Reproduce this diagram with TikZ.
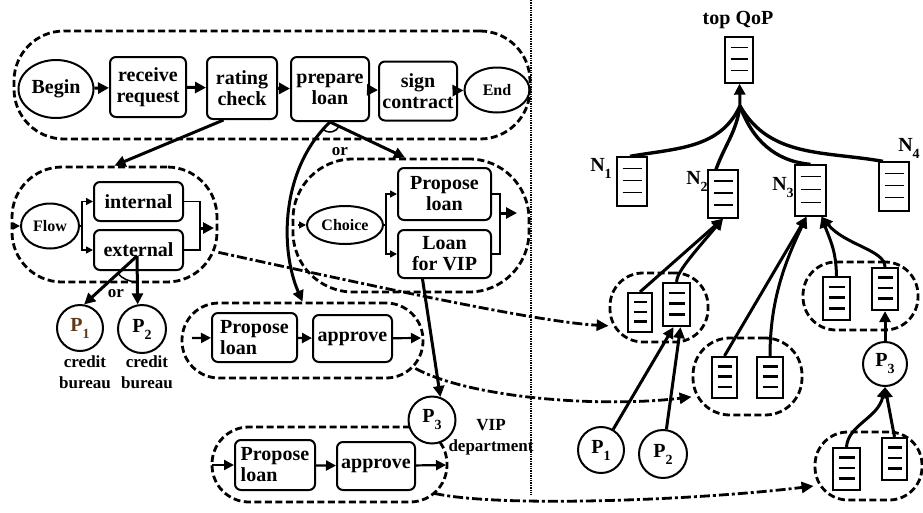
\documentclass[tikz,border=0pt]{standalone}
\usepackage{fontspec}
\setmainfont{Liberation Serif}
\usetikzlibrary{positioning, calc, arrows.meta, shapes.geometric}
\definecolor{bureaubrown}{RGB}{96,56,20}
\newcommand{\lbl}[2]{#1\raisebox{-0.35em}{\fontsize{14}{14}\selectfont #2}}

\tikzset{
  task/.style={draw, line width=2pt, rounded corners=6pt, align=center, inner sep=0pt, font=\fontsize{20}{21}\selectfont\bfseries},
  ev/.style={draw, ellipse, line width=2pt, inner sep=0pt, font=\fontsize{20}{21}\selectfont\bfseries},
  grp/.style={draw, line width=2.8pt, dash pattern=on 7pt off 3.5pt, inner sep=0pt},
  proc/.style={draw, circle, fill=white, line width=2pt, inner sep=0pt, font=\fontsize{20}{21}\selectfont\bfseries},
  txt/.style={font=\fontsize{17}{21}\selectfont\bfseries, align=center, inner sep=0pt},
  doc/.style={draw, fill=white, line width=1.3pt, inner sep=0pt,
    path picture={\foreach \f in {0.23,0.48,0.73}
      \draw[line width=#1] ($(path picture bounding box.north west)!\f!(path picture bounding box.south west)+(5.5,0)$)
        -- ($(path picture bounding box.north east)!\f!(path picture bounding box.south east)+(-5.5,0)$);}},
  doc/.default=1.4pt,
  gdoc/.style={doc=2.4pt, line width=2.2pt},
  flowarr/.style={line width=3pt, -{Triangle[length=11pt,width=11pt]}},
  midarr/.style={line width=2.2pt, -{Triangle[length=10pt,width=10pt]}},
  tinyarr/.style={line width=1.5pt, -{Triangle[length=7pt,width=7pt]}},
  linkarr/.style={line width=2.8pt, dash pattern=on 10pt off 3pt on 3pt off 3pt, -{Triangle[length=12pt,width=11pt]}},
}

\begin{document}
\begin{tikzpicture}[x=1pt, y=-1pt]
    \useasboundingbox (0,0) rectangle (923,512);

    % dashed scopes, drawn first
    \node[grp, rounded corners=50pt, minimum width=516pt, minimum height=108pt] (g0) at (272,85) {};
    \node[grp, rounded corners=50pt, minimum width=205pt, minimum height=115pt] (g1) at (114.5,224.5) {};
    \node[grp, rounded corners=60pt, minimum width=236pt, minimum height=133pt] (g2) at (411,225.5) {};
    \node[grp, rounded corners=37pt, minimum width=241pt, minimum height=75pt] (g3) at (302.5,340.5) {};
    \node[grp, rounded corners=37pt, minimum width=235pt, minimum height=75pt] (g4) at (329.5,464.5) {};
    \node[grp, rounded corners=33pt, minimum width=98pt, minimum height=69pt] (ga) at (659,307.5) {};
    \node[grp, rounded corners=37pt, minimum width=109pt, minimum height=77pt] (gb) at (747.5,376.5) {};
    \node[grp, rounded corners=33pt, minimum width=115pt, minimum height=68pt] (gc) at (860.5,296) {};
    \node[grp, rounded corners=33pt, minimum width=107pt, minimum height=68pt] (gd) at (868.5,466) {};

    \draw[densely dotted, line width=1.4pt] (531,0) -- (531,495);

    % main process
    \node[ev, minimum width=75pt, minimum height=58pt] (begin) at (56,89) {Begin};
    \node[task, minimum width=76pt, minimum height=60pt] (receive) at (148,87) {receive\\request};
    \node[task, minimum width=70pt, minimum height=62pt] (rating) at (242,88) {rating\\check};
    \node[task, minimum width=78pt, minimum height=64pt] (prepare) at (330,89) {prepare\\loan};
    \node[task, minimum width=78pt, minimum height=59pt] (sign) at (418,91) {sign\\contract};
    \node[ev, minimum width=65pt, minimum height=45pt, font=\fontsize{16}{16}\selectfont\bfseries] (end) at (497,90) {End};
    \foreach \a/\b in {begin/receive, receive/rating, rating/prepare, prepare/sign, sign/end}
        \draw[flowarr] (\a) -- (\b);

    % flow scope
    \node[ev, minimum width=58pt, minimum height=45pt, font=\fontsize{16}{16}\selectfont\bfseries] (flow) at (50,226) {Flow};
    \node[task, minimum width=89pt, minimum height=39pt] (internal) at (138.5,201.5) {internal};
    \node[task, minimum width=89pt, minimum height=40pt] (external) at (138.5,250) {external};
    \coordinate (fin) at (12,226);
    \coordinate (fsplit) at (82,226);
    \coordinate (fmerge) at (200,228);
    \coordinate (fout) at (214,228);
    \draw[tinyarr] (fin) -- (flow);
    \draw[line width=1.5pt] (flow.east) -- (fsplit);
    \draw[tinyarr] (fsplit) |- (internal.west);
    \draw[tinyarr] (fsplit) |- (external.west);
    \draw[line width=1.5pt] (internal.east) -| (fmerge) |- (external.east);
    \draw[flowarr] (fmerge) -- (fout);

    % choice scope
    \node[ev, minimum width=76pt, minimum height=38pt, font=\fontsize{16}{16}\selectfont\bfseries] (choice) at (345,225) {Choice};
    \node[task, minimum width=93pt, minimum height=52pt] (cprop) at (444.5,194) {Propose\\loan};
    \node[task, minimum width=93pt, minimum height=48pt] (cvip) at (444.5,254) {Loan\\for VIP};
    \coordinate (cin) at (298,225);
    \coordinate (csplit) at (386,225);
    \coordinate (cmerge) at (500,213);
    \coordinate (cout) at (517,213);
    \draw[tinyarr] (cin) -- (choice);
    \draw[line width=1.5pt] (choice.east) -- (csplit);
    \draw[tinyarr] (csplit) |- (cprop.west);
    \draw[tinyarr] (csplit) |- (cvip.west);
    \draw[line width=1.5pt] (cprop.east) -| (cmerge) |- (cvip.east);
    \draw[flowarr] (cmerge) -- (cout);

    % propose / approve scopes
    \node[task, align=left, minimum width=85pt, minimum height=49pt] (aprop) at (254.5,337.5) {Propose\\loan};
    \node[task, minimum width=79pt, minimum height=47pt] (aappr) at (352.5,338.5) {approve};
    \coordinate (ain) at (192,338);
    \coordinate (aout) at (421,338);
    \draw[midarr] (ain) -- (aprop);
    \draw[midarr] (aprop) -- (aappr);
    \draw[midarr] (aappr) -- (aout);

    \node[task, align=left, minimum width=80pt, minimum height=50pt] (bprop) at (275,465) {Propose\\loan};
    \node[task, minimum width=78pt, minimum height=48pt] (bappr) at (376,466) {approve};
    \coordinate (bin) at (212,465);
    \coordinate (bout) at (446,465);
    \draw[midarr] (bin) -- (bprop);
    \draw[midarr] (bprop) -- (bappr);
    \draw[midarr] (bappr) -- (bout);

    % services
    \node[proc, minimum size=46pt, text=bureaubrown] (p1) at (80,328) {\lbl{P}{1}};
    \node[proc, minimum size=48pt] (p2) at (142,329) {\lbl{P}{2}};
    \node[txt] (cb1) at (85,372) {credit\\bureau};
    \node[txt] (cb2) at (147,372) {credit\\bureau};
    \node[proc, minimum size=47pt] (p3) at (432,420) {\lbl{P}{3}};
    \node[txt] (vip) at (491,437) {VIP\\department};
    \node[txt] (or1) at (340,152) {or};
    \node[txt] (or2) at (116,294) {or};

    % refinement links
    \draw[flowarr] (rating.240) -- (g1.north);
    \draw[flowarr] (prepare.south) -- ([xshift=-6pt]g2.north);
    \draw[flowarr] (prepare.south) .. controls (280,170) and (280,250) .. (g3.north);
    \draw[line width=1.5pt] ([shift={(224:10pt)}]prepare.south) arc[start angle=224, end angle=334, radius=10pt];
    \coordinate (xsrc) at (137,256);
    \draw[flowarr] (xsrc) -- (p1.80);
    \draw[flowarr] (xsrc) -- (p2.100);
    \draw[line width=1.5pt] ([shift={(222:26pt)}]xsrc) arc[start angle=222, end angle=270, radius=26pt];
    \draw[flowarr] ([xshift=-22pt]cvip.south) -- (p3.70);

    % QoP tree
    \node[txt, font=\fontsize{20}{20}\selectfont\bfseries] (topl) at (738,20) {top QoP};
    \node[doc, minimum width=28pt, minimum height=46pt] (top) at (739,60) {};
    \node[doc, minimum width=30pt, minimum height=49pt] (n1) at (632,181.5) {};
    \node[doc, minimum width=30pt, minimum height=48pt] (n2) at (723,194) {};
    \node[doc, minimum width=31pt, minimum height=51pt] (n3) at (810.5,190.5) {};
    \node[doc, minimum width=30pt, minimum height=49pt] (n4) at (894,186.5) {};
    \node[txt, font=\fontsize{20}{20}\selectfont\bfseries] (n1l) at (601,168) {\lbl{N}{1}};
    \node[txt, font=\fontsize{20}{20}\selectfont\bfseries] (n2l) at (697,181) {\lbl{N}{2}};
    \node[txt, font=\fontsize{20}{20}\selectfont\bfseries] (n3l) at (783,188) {\lbl{N}{3}};
    \node[txt, font=\fontsize{20}{20}\selectfont\bfseries] (n4l) at (909,148) {\lbl{N}{4}};
    \coordinate (jn) at (740,106);
    \draw[flowarr] (jn) -- (top);
    \draw[line width=3.4pt] ([xshift=-2pt]n1.north) to[out=10, in=245] (jn);
    \draw[line width=3.4pt] ([xshift=-7pt]n2.north) to[out=70, in=262] (jn);
    \draw[line width=3.4pt] (n3.north) to[out=175, in=290] (jn);
    \draw[line width=3.4pt] ([xshift=-11pt]n4.north) to[out=170, in=300] (jn);

    % docs inside the scopes
    \node[gdoc, minimum width=24pt, minimum height=39pt] (a1) at (640,312.5) {};
    \node[gdoc, minimum width=27pt, minimum height=43pt] (a2) at (676.5,304.5) {};
    \node[gdoc, minimum width=25pt, minimum height=41pt] (b1) at (724.5,377.5) {};
    \node[gdoc, minimum width=26pt, minimum height=41pt] (b2) at (770,377.5) {};
    \node[gdoc, minimum width=27pt, minimum height=43pt] (c1) at (836.5,298.5) {};
    \node[gdoc, minimum width=26pt, minimum height=42pt] (c2) at (885,289) {};
    \node[gdoc, minimum width=27pt, minimum height=42pt] (d1) at (846.5,469) {};
    \node[gdoc, minimum width=25pt, minimum height=42pt] (d2) at (894.5,459) {};
    \node[proc, minimum size=46pt] (p1r) at (601,450) {\lbl{P}{1}};
    \node[proc, minimum size=48pt] (p2r) at (663,454) {\lbl{P}{2}};
    \node[proc, minimum size=44pt] (p3r) at (885,364) {\lbl{P}{3}};

    \draw[flowarr] (a1.north) -- (n2.south);
    \draw[flowarr] (a2.north) .. controls (677,272) and (692,255) .. (n2.south);
    \draw[flowarr] (p1r) -- ([xshift=-3pt]a2.south);
    \draw[flowarr] (p2r) -- ([xshift=4pt]a2.south);
    \draw[flowarr] (b1.north) -- ([xshift=-4pt]n3.south);
    \draw[flowarr] (b2.north) .. controls (770,300) and (785,262) .. ([xshift=-4pt]n3.south);
    \draw[flowarr] (c1.north) .. controls (836,250) and (830,240) .. ([xshift=11pt]n3.south);
    \draw[flowarr] (c2.north) .. controls (885,250) and (845,245) .. ([xshift=11pt]n3.south);
    \draw[flowarr] (p3r) -- (c2.south);
    \draw[flowarr] (d1.north) .. controls (848,425) and (878,418) .. (p3r.south);
    \draw[flowarr] (d2.north) -- (p3r.south);

    % mapping of scopes to QoP groups
    \draw[linkarr] (g1.-15) .. controls (400,292) and (540,322) .. (ga.200);
    \draw[linkarr] ([xshift=-9pt,yshift=11pt]g3.south east) .. controls (470,398) and (600,408) .. (gb.200);
    \draw[linkarr] ([xshift=-14pt,yshift=10pt]g4.south east) .. controls (500,508) and (700,500) .. (gd.200);
\end{tikzpicture}
\end{document}
